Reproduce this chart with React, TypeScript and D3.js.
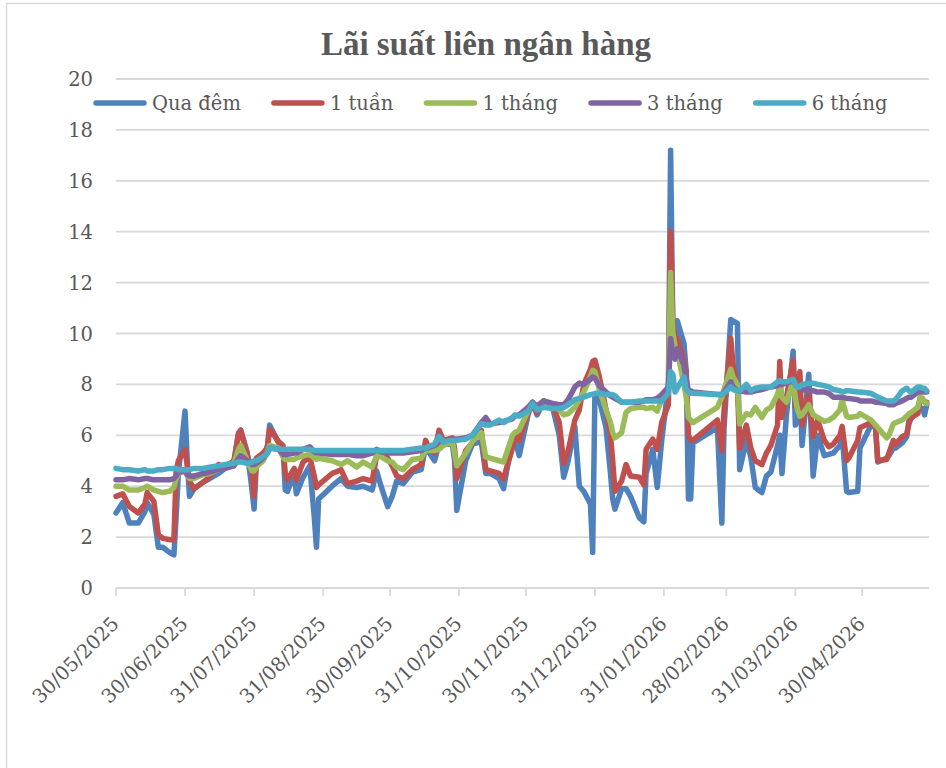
import React, { useEffect, useRef } from 'react'
import * as d3 from 'd3'

// ngày giao dịch (dd/mm/yyyy)
const dates = [
  '30/05/2025', '02/06/2025', '05/06/2025', '09/06/2025', '12/06/2025', '13/06/2025', '16/06/2025', '18/06/2025', '20/06/2025', '23/06/2025',
  '25/06/2025', '26/06/2025', '27/06/2025', '30/06/2025', '01/07/2025', '02/07/2025', '04/07/2025', '08/07/2025', '11/07/2025', '15/07/2025',
  '18/07/2025', '22/07/2025', '24/07/2025', '25/07/2025', '28/07/2025', '30/07/2025', '31/07/2025', '01/08/2025', '04/08/2025', '06/08/2025',
  '07/08/2025', '11/08/2025', '13/08/2025', '14/08/2025', '15/08/2025', '18/08/2025', '19/08/2025', '22/08/2025', '25/08/2025', '27/08/2025',
  '28/08/2025', '29/08/2025', '04/09/2025', '08/09/2025', '11/09/2025', '15/09/2025', '18/09/2025', '22/09/2025', '24/09/2025', '26/09/2025',
  '29/09/2025', '01/10/2025', '03/10/2025', '06/10/2025', '10/10/2025', '14/10/2025', '16/10/2025', '17/10/2025', '20/10/2025', '22/10/2025',
  '24/10/2025', '28/10/2025', '29/10/2025', '30/10/2025', '03/11/2025', '06/11/2025', '10/11/2025', '12/11/2025', '14/11/2025', '18/11/2025',
  '20/11/2025', '24/11/2025', '25/11/2025', '27/11/2025', '01/12/2025', '03/12/2025', '05/12/2025', '08/12/2025', '12/12/2025', '15/12/2025',
  '17/12/2025', '19/12/2025', '22/12/2025', '24/12/2025', '26/12/2025', '29/12/2025', '30/12/2025', '31/12/2025', '02/01/2026', '05/01/2026',
  '07/01/2026', '08/01/2026', '09/01/2026', '12/01/2026', '14/01/2026', '16/01/2026', '20/01/2026', '22/01/2026', '23/01/2026', '26/01/2026',
  '28/01/2026', '30/01/2026', '02/02/2026', '03/02/2026', '04/02/2026', '05/02/2026', '06/02/2026', '09/02/2026', '10/02/2026', '11/02/2026',
  '12/02/2026', '13/02/2026', '24/02/2026', '26/02/2026', '27/02/2026', '02/03/2026', '03/03/2026', '05/03/2026', '06/03/2026', '09/03/2026',
  '11/03/2026', '13/03/2026', '16/03/2026', '18/03/2026', '20/03/2026', '23/03/2026', '24/03/2026', '25/03/2026', '27/03/2026', '30/03/2026',
  '31/03/2026', '01/04/2026', '02/04/2026', '03/04/2026', '06/04/2026', '08/04/2026', '10/04/2026', '13/04/2026', '15/04/2026', '17/04/2026',
  '20/04/2026', '21/04/2026', '23/04/2026', '24/04/2026', '28/04/2026', '29/04/2026', '04/05/2026', '06/05/2026', '07/05/2026', '11/05/2026',
  '12/05/2026', '14/05/2026', '15/05/2026', '18/05/2026', '20/05/2026', '21/05/2026', '22/05/2026', '25/05/2026', '26/05/2026', '27/05/2026',
  '28/05/2026', '29/05/2026'
]

const quaDem = [
  2.95, 3.35, 2.55, 2.55, 3.0, 3.35, 2.9, 1.6, 1.6, 1.4,
  1.3, 2.8, 4.5, 6.95, 5.0, 3.6, 3.9, 4.15, 4.3, 4.5,
  4.7, 5.0, 6.1, 6.2, 5.3, 3.9, 3.1, 4.9, 5.1, 5.6,
  6.4, 5.7, 5.5, 3.85, 3.8, 4.5, 3.7, 4.35, 4.8, 2.8,
  1.6, 3.5, 4.0, 4.3, 4.0, 3.95, 4.0, 3.85, 4.6, 4.0,
  3.2, 3.6, 4.2, 4.1, 4.55, 4.65, 5.55, 5.4, 5.0, 5.65,
  5.65, 5.65, 5.0, 3.05, 5.0, 5.65, 5.75, 4.5, 4.5, 4.3,
  3.9, 5.9, 5.9, 5.2, 6.8, 7.3, 6.8, 7.3, 7.1, 6.0,
  4.35, 5.0, 6.35, 4.0, 3.8, 3.3, 1.4, 7.55, 7.4, 6.3,
  4.5, 3.5, 3.1, 3.9, 3.9, 3.6, 2.75, 2.6, 4.5, 5.45,
  3.95, 5.8, 8.0, 17.2, 10.0, 9.0, 10.5, 9.6, 8.5, 3.5,
  3.5, 5.7, 6.3, 2.55, 6.3, 10.55, 10.5, 10.4, 4.65, 5.8,
  5.15, 3.95, 3.75, 4.4, 4.55, 5.6, 6.0, 4.5, 6.8, 9.3,
  6.4, 6.6, 8.1, 5.6, 8.4, 4.4, 6.0, 5.2, 5.25, 5.3,
  5.6, 6.0, 3.8, 3.75, 3.8, 5.5, 6.4, 6.3, 4.95, 5.1,
  5.2, 5.5, 5.5, 5.7, 5.95, 6.6, 6.65, 6.95, 7.1, 7.05,
  6.8, 7.2
]

const motTuan = [
  3.6, 3.7, 3.2, 2.95, 3.3, 3.75, 3.4, 2.1, 1.95, 1.9,
  1.9, 4.6, 5.0, 5.45, 4.8, 4.2, 3.9, 4.15, 4.35, 4.85,
  4.75, 5.0, 6.05, 6.2, 5.2, 4.6, 3.6, 5.1, 5.3, 5.5,
  6.25, 5.75, 5.6, 4.5, 4.25, 4.7, 4.25, 4.95, 5.15, 4.4,
  3.95, 4.05, 4.5, 4.65, 4.1, 4.2, 4.3, 4.2, 5.2, 5.35,
  5.1, 4.8, 4.4, 4.3, 4.65, 4.85, 5.8, 5.6, 5.3, 6.2,
  5.8, 5.9, 5.5, 4.3, 5.4, 5.7, 6.2, 4.65, 4.6, 4.5,
  4.3, 5.5, 6.05, 5.8, 6.9, 7.2, 6.9, 7.35, 7.2, 6.5,
  4.9, 5.4, 6.6, 7.0, 8.0, 8.6, 8.9, 8.95, 8.3, 7.0,
  6.0, 5.0, 3.8, 4.2, 4.85, 4.4, 4.35, 4.05, 5.45, 5.85,
  5.45, 6.5, 7.2, 14.0, 10.5, 9.8, 9.8, 8.9, 8.5, 6.0,
  5.8, 5.8, 6.6, 5.4, 7.0, 9.8, 8.8, 7.9, 5.5, 6.4,
  5.5, 5.0, 4.85, 5.3, 5.6, 6.4, 8.9, 6.7, 7.5, 8.95,
  7.15, 8.0, 8.5, 6.4, 7.65, 5.95, 6.6, 5.8, 5.55, 5.65,
  6.0, 6.35, 5.0, 5.1, 5.8, 6.3, 6.5, 6.3, 5.0, 5.05,
  5.3, 5.8, 5.65, 5.95, 6.05, 6.45, 6.7, 6.85, 7.4, 7.45,
  7.3, 7.3
]

const motThang = [
  4.0, 4.0, 3.85, 3.85, 3.95, 4.0, 3.85, 3.8, 3.75, 3.8,
  3.95, 4.3, 4.5, 4.6, 4.45, 4.3, 4.3, 4.45, 4.5, 4.65,
  4.75, 4.9, 5.45, 5.6, 5.0, 4.6, 4.6, 4.75, 5.0, 5.35,
  5.6, 5.5, 5.15, 5.05, 5.05, 5.05, 5.1, 5.2, 5.25, 5.1,
  5.05, 5.1, 5.0, 4.85, 5.0, 4.75, 4.95, 4.75, 5.2, 5.15,
  5.0, 4.95, 4.75, 4.65, 5.05, 5.1, 5.4, 5.4, 5.4, 5.45,
  5.6, 5.75, 5.3, 4.8, 5.3, 5.75, 6.1, 5.15, 5.1, 5.0,
  4.95, 6.0, 6.1, 6.2, 6.95, 7.25, 7.1, 7.35, 7.2, 7.0,
  6.8, 6.85, 7.1, 7.4, 7.7, 8.3, 8.55, 8.5, 7.8, 7.0,
  6.5, 6.1, 5.9, 6.1, 6.9, 7.05, 7.1, 7.1, 7.05, 7.1,
  6.95, 7.4, 7.8, 12.4, 10.0, 9.5, 9.3, 8.0, 7.5, 6.7,
  6.6, 6.5, 7.1, 7.5, 7.8, 8.6, 8.3, 8.0, 6.45, 6.85,
  6.8, 7.1, 6.7, 7.0, 7.1, 7.6, 7.95, 7.5, 7.3, 8.15,
  7.45, 7.0, 6.75, 6.8, 7.2, 6.8, 6.7, 6.55, 6.6, 6.7,
  7.0, 7.4, 6.75, 6.7, 6.75, 6.85, 6.6, 6.4, 6.3, 5.9,
  6.0, 6.45, 6.5, 6.6, 6.75, 6.85, 6.9, 7.1, 7.5, 7.45,
  7.3, 7.25
]

const baThang = [
  4.25, 4.25, 4.3, 4.25, 4.3, 4.3, 4.25, 4.25, 4.25, 4.25,
  4.3, 4.4, 4.55, 4.6, 4.45, 4.4, 4.4, 4.5, 4.55, 4.65,
  4.7, 4.8, 5.1, 5.2, 5.0, 4.85, 4.85, 4.9, 5.1, 5.3,
  5.5, 5.45, 5.25, 5.25, 5.25, 5.3, 5.3, 5.45, 5.55, 5.35,
  5.3, 5.3, 5.25, 5.25, 5.25, 5.2, 5.2, 5.3, 5.45, 5.35,
  5.3, 5.3, 5.3, 5.3, 5.35, 5.4, 5.5, 5.5, 5.6, 6.0,
  5.75, 5.85, 5.85, 5.85, 5.9, 6.0, 6.5, 6.7, 6.45, 6.5,
  6.55, 6.65, 6.75, 6.8, 7.1, 7.3, 7.15, 7.35, 7.25, 7.2,
  7.2, 7.4, 7.9, 8.05, 8.0, 8.2, 8.3, 8.25, 7.95, 7.7,
  7.55, 7.5, 7.45, 7.3, 7.3, 7.3, 7.3, 7.35, 7.4, 7.4,
  7.45, 7.6, 7.9, 9.8, 9.2, 9.0, 9.4, 8.75, 8.2, 7.75,
  7.75, 7.7, 7.6, 7.6, 7.7, 8.1, 7.9, 7.75, 7.75, 7.7,
  7.7, 7.75, 7.8, 7.85, 7.9, 7.95, 8.0, 8.0, 8.05, 8.15,
  8.0, 7.9, 7.85, 7.8, 7.75, 7.75, 7.7, 7.7, 7.65, 7.5,
  7.5, 7.5, 7.45, 7.45, 7.4, 7.35, 7.35, 7.3, 7.3, 7.25,
  7.2, 7.2, 7.25, 7.35, 7.45, 7.5, 7.5, 7.7, 7.7, 7.7,
  7.7, 7.7
]

const sauThang = [
  4.7, 4.65, 4.65, 4.6, 4.65, 4.6, 4.6, 4.65, 4.65, 4.7,
  4.7, 4.7, 4.65, 4.65, 4.65, 4.65, 4.7, 4.7, 4.75, 4.8,
  4.85, 4.9, 4.95, 4.95, 4.9, 4.95, 5.0, 5.0, 5.15, 5.3,
  5.5, 5.45, 5.45, 5.45, 5.45, 5.45, 5.45, 5.45, 5.45, 5.4,
  5.4, 5.4, 5.4, 5.4, 5.4, 5.4, 5.4, 5.4, 5.4, 5.4,
  5.4, 5.4, 5.4, 5.4, 5.45, 5.5, 5.5, 5.55, 5.65, 5.95,
  5.75, 5.8, 5.8, 5.8, 5.85, 6.0, 6.45, 6.4, 6.4, 6.6,
  6.5, 6.7, 6.8, 6.75, 6.95, 7.25, 7.0, 7.1, 7.05, 7.05,
  7.1, 7.2, 7.4, 7.45, 7.5, 7.6, 7.6, 7.65, 7.65, 7.6,
  7.6, 7.6, 7.55, 7.3, 7.3, 7.3, 7.35, 7.35, 7.35, 7.35,
  7.35, 7.35, 7.65, 8.5, 8.4, 7.7, 7.85, 8.3, 7.8, 7.7,
  7.65, 7.65, 7.6, 7.6, 7.65, 7.9, 7.8, 7.75, 7.75, 8.0,
  7.75, 7.85, 7.9, 7.9, 7.9, 8.1, 8.15, 8.1, 8.1, 8.2,
  8.0, 7.9, 7.9, 8.0, 8.05, 8.05, 8.0, 7.95, 7.9, 7.8,
  7.75, 7.7, 7.75, 7.75, 7.7, 7.7, 7.65, 7.55, 7.5, 7.35,
  7.35, 7.35, 7.4, 7.75, 7.85, 7.75, 7.7, 7.9, 7.9, 7.85,
  7.85, 7.75
]

const seriesNames = ['Qua đêm', '1 tuần', '1 tháng', '3 tháng', '6 tháng']
const seriesValues = [quaDem, motTuan, motThang, baThang, sauThang]
const colors = ['#4F81BD', '#C0504D', '#9BBB59', '#8064A2', '#4BACC6']

const tickLabels = [
  '30/05/2025', '30/06/2025', '31/07/2025', '31/08/2025', '30/09/2025', '31/10/2025',
  '30/11/2025', '31/12/2025', '31/01/2026', '28/02/2026', '31/03/2026', '30/04/2026'
]
const yTicks = [0, 2, 4, 6, 8, 10, 12, 14, 16, 18, 20]

const labelFont = '"DejaVu Serif", serif'
const textColor = '#595959'
const gridColor = '#d9d9d9'

function App () {
  const ref = useRef<SVGSVGElement>(null)

  useEffect(() => {
    const svg = d3.select(ref.current)
    svg.selectAll('*').remove()

    const parse = d3.utcParse('%d/%m/%Y')
    const x = d3.scaleUtc()
      .domain([parse('30/05/2025') as Date, parse('30/05/2026') as Date])
      .range([116, 929])
    const y = d3.scaleLinear().domain([0, 20]).range([588, 79])

    // khung biểu đồ
    svg.append('rect')
      .attr('x', 6.5).attr('y', 3.5)
      .attr('width', 1000).attr('height', 1000)
      .attr('fill', '#fff')
      .attr('stroke', gridColor)
      .attr('stroke-width', 1.5)

    svg.append('text')
      .attr('x', 486).attr('y', 55)
      .attr('text-anchor', 'middle')
      .attr('font-family', '"Liberation Serif", serif')
      .attr('font-weight', 'bold')
      .attr('font-size', 33)
      .attr('fill', textColor)
      .text('Lãi suất liên ngân hàng')

    // lưới ngang + nhãn trục tung
    const [x0, x1] = x.range()
    svg.append('g').selectAll('line')
      .data(yTicks)
      .enter().append('line')
      .attr('x1', x0).attr('x2', x1)
      .attr('y1', d => y(d)).attr('y2', d => y(d))
      .attr('stroke', gridColor)
      .attr('stroke-width', 1.8)

    svg.append('g').selectAll('text')
      .data(yTicks)
      .enter().append('text')
      .attr('x', 93)
      .attr('y', d => y(d) + 7)
      .attr('text-anchor', 'end')
      .attr('font-family', labelFont)
      .attr('font-size', 19.5)
      .attr('fill', textColor)
      .text(d => d)

    // vạch chia + nhãn trục hoành
    const tickDates = tickLabels.map(s => parse(s) as Date)
    svg.append('g').selectAll('line')
      .data(tickDates)
      .enter().append('line')
      .attr('x1', d => x(d)).attr('x2', d => x(d))
      .attr('y1', y(0)).attr('y2', y(0) + 8)
      .attr('stroke', gridColor)
      .attr('stroke-width', 1.8)

    svg.append('g').selectAll('text')
      .data(tickLabels)
      .enter().append('text')
      .attr('transform', d => 'translate(' + (x(parse(d) as Date) + 4) + ',' + 625 + ') rotate(-45)')
      .attr('text-anchor', 'end')
      .attr('font-family', labelFont)
      .attr('font-size', 19.5)
      .attr('fill', textColor)
      .text(d => d)

    // các đường lãi suất
    const parsedDates = dates.map(s => parse(s) as Date)
    const line = d3.line<number>()
      .x((d, i) => x(parsedDates[i]))
      .y(d => y(d))

    svg.append('g').selectAll('path')
      .data(seriesValues)
      .enter().append('path')
      .attr('d', d => line(d))
      .attr('fill', 'none')
      .attr('stroke', (d, i) => colors[i])
      .attr('stroke-width', 5.5)
      .attr('stroke-linejoin', 'round')
      .attr('stroke-linecap', 'round')

    // chú giải
    const legend = svg.append('g')
    let cx = 96
    seriesNames.forEach((name, i) => {
      legend.append('line')
        .attr('x1', cx).attr('x2', cx + 48)
        .attr('y1', 103).attr('y2', 103)
        .attr('stroke', colors[i])
        .attr('stroke-width', 5.5)
        .attr('stroke-linecap', 'round')
      const t = legend.append('text')
        .attr('x', cx + 56).attr('y', 110)
        .attr('font-family', labelFont)
        .attr('font-size', 19.5)
        .attr('fill', textColor)
        .text(name)
      const w = (t.node() as SVGTextElement).getComputedTextLength()
      cx += 56 + w + 33
    })
  }, [])

  return (
    <svg ref={ref} width={946} height={768}
      style={{ position: 'absolute', left: 0, top: 0, background: '#fff' }} />
  )
}

export default App
